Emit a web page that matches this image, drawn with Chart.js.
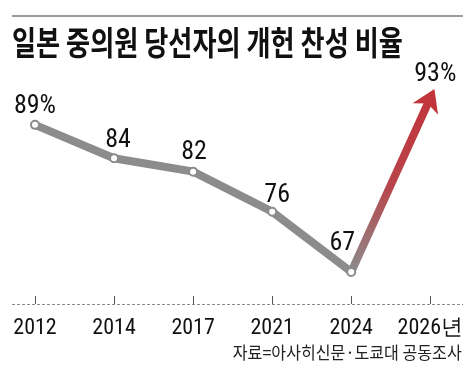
<!DOCTYPE html>
<html>
<head>
<meta charset="utf-8">
<script src="https://cdn.jsdelivr.net/npm/chart.js@4/dist/chart.umd.min.js"></script>
<style>
body { margin: 0; background: #fff; }
.wrap { position: relative; width: 474px; height: 368px; overflow: hidden; }
.topline { position: absolute; left: 12px; top: 15px; width: 451px; border-top: 2px solid #9c9c9c; }
.title { position: absolute; left: 12px; top: 21px; font-family: "Noto Sans CJK KR"; font-weight: 700; font-size: 33px; line-height: 40px; white-space: nowrap; transform: scaleX(0.793); transform-origin: 0 0; color: #111; }
.source { position: absolute; right: 12px; top: 341px; font-family: "Noto Sans CJK KR"; font-size: 17px; line-height: 22px; white-space: nowrap; transform: scaleX(0.947); transform-origin: 100% 0; color: #222; }
canvas { position: absolute; left: 0; top: 0; }
</style>
</head>
<body>
<div class="wrap">
  <canvas id="myChart" width="474" height="368"></canvas>
  <div class="topline"></div>
  <div class="title">일본 중의원 당선자의 개헌 찬성 비율</div>
  <div class="source">자료=아사히신문·도쿄대 공동조사</div>
</div>
<script>
var years = ["2012", "2014", "2017", "2021", "2024", "2026년"];
var rates = [89, 84, 82, 76, 67, 93];

var lineGray = "#8c8c8c";
var arrowRed = "#c1353b";
var numFont = '"Roboto Condensed", "Liberation Sans", sans-serif';

// label offsets from each point (dx, gap above)
var labelShift = [[0, 12], [4, 11], [1, 13], [5, 10], [-9, 22], [5, 17]];

function arrowGradient(chart, p0, p1) {
    var g = chart.ctx.createLinearGradient(p0.x, p0.y, p1.x, p1.y);
    g.addColorStop(0, lineGray);
    g.addColorStop(0.5, "#b8444a");
    g.addColorStop(1, arrowRed);
    return g;
}

var axisPlugin = {
    id: "axisLine",
    beforeDatasetsDraw: function (chart) {
        var c = chart.ctx;
        var x = chart.scales.x;
        var y0 = chart.chartArea.bottom;
        c.save();
        c.strokeStyle = "#8a8a8a";
        c.lineWidth = 1;
        c.setLineDash([3, 2]);
        c.beginPath();
        c.moveTo(12, y0 + 0.5);
        c.lineTo(463, y0 + 0.5);
        c.stroke();
        c.setLineDash([]);
        c.strokeStyle = "#555";
        years.forEach(function (yr, i) {
            var px = Math.round(x.getPixelForValue(i)) + 0.5;
            c.beginPath();
            c.moveTo(px, y0 - 8);
            c.lineTo(px, y0);
            c.stroke();
        });
        c.restore();
    }
};

var arrowPlugin = {
    id: "arrowHead",
    afterDatasetsDraw: function (chart) {
        var c = chart.ctx;
        var pts = chart.getDatasetMeta(0).data;
        var a = pts[pts.length - 2], b = pts[pts.length - 1];
        var dx = b.x - a.x, dy = b.y - a.y;
        var len = Math.sqrt(dx * dx + dy * dy);
        var ux = dx / len, uy = dy / len;
        var tipX = b.x + ux * 10, tipY = b.y + uy * 10;
        var bx = tipX - ux * 22, by = tipY - uy * 22;
        var nx = -uy, ny = ux;
        c.save();
        c.fillStyle = arrowRed;
        c.beginPath();
        c.moveTo(tipX, tipY);
        c.lineTo(bx + nx * 14, by + ny * 14);
        c.lineTo(bx + ux * 6, by + uy * 6);
        c.lineTo(bx - nx * 14, by - ny * 14);
        c.closePath();
        c.fill();

        // value labels
        c.font = "26px " + numFont;
        c.textAlign = "center";
        c.textBaseline = "alphabetic";
        c.fillStyle = "#111";
        pts.forEach(function (p, i) {
            var txt = String(rates[i]);
            if (i === 0 || i === pts.length - 1) txt += "%";
            c.fillText(txt, p.x + labelShift[i][0], p.y - labelShift[i][1]);
        });
        c.restore();
    }
};

var pointR = rates.map(function (v, i) { return i === rates.length - 1 ? 0 : 4; });

new Chart("myChart", {
    type: "line",
    data: {
        labels: years,
        datasets: [{
            data: rates,
            borderColor: lineGray,
            borderWidth: 8,
            borderJoinStyle: "miter",
            tension: 0,
            pointRadius: pointR,
            pointBackgroundColor: "#fff",
            pointBorderColor: lineGray,
            pointBorderWidth: 2,
            segment: {
                borderColor: function (ctx) {
                    if (ctx.p1DataIndex === rates.length - 1) {
                        return arrowGradient(ctx.chart, ctx.p0, ctx.p1);
                    }
                    return undefined;
                }
            }
        }]
    },
    options: {
        responsive: false,
        animation: false,
        layout: { padding: { left: 35, right: 39, top: 60, bottom: 30 } },
        plugins: {
            legend: { display: false },
            title: { display: false },
            tooltip: { enabled: false }
        },
        scales: {
            x: {
                offset: false,
                grid: { display: false, drawTicks: false },
                border: { display: false },
                afterFit: function (scale) { scale.height = 34; },
                ticks: {
                    padding: 11,
                    color: "#111",
                    maxRotation: 0,
                    autoSkip: false,
                    font: { family: numFont, size: 22 }
                }
            },
            y: {
                display: false,
                min: 62.2,
                max: 98.7
            }
        }
    },
    plugins: [axisPlugin, arrowPlugin]
});
</script>
</body>
</html>
